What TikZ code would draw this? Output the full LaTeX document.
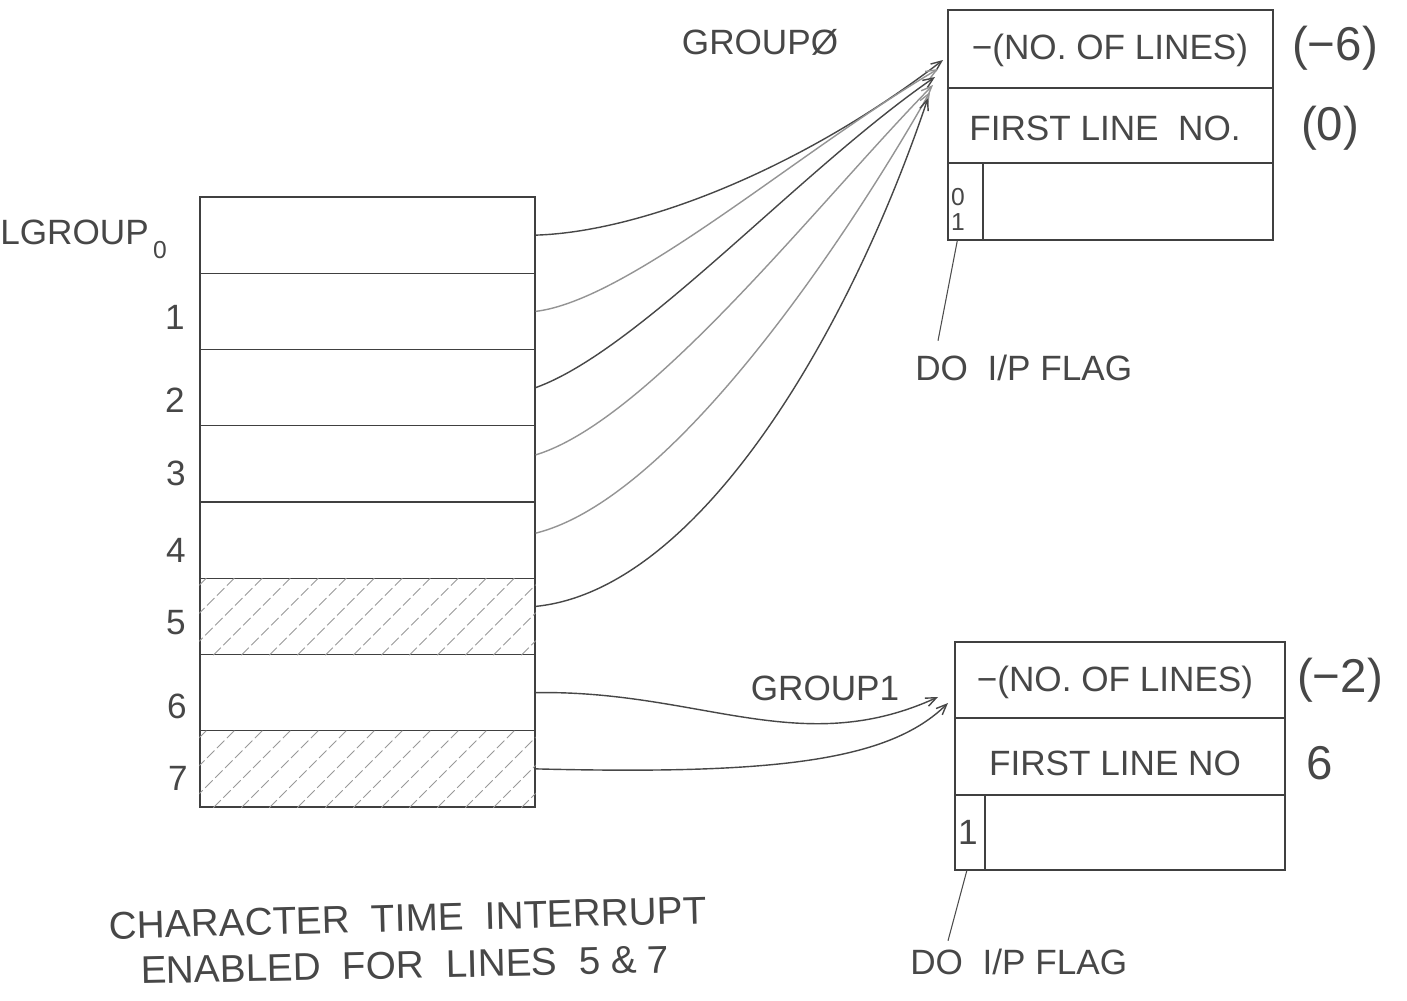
\documentclass[tikz,border=0pt]{standalone}
\usepackage{fontspec}
\setmainfont{Liberation Sans}
\usetikzlibrary{arrows.meta,fit,calc}
\begin{document}
\begin{tikzpicture}[x=0.02cm,y=-0.02cm,
  cell/.style={draw=black!75, line width=0.8pt, inner sep=0pt},
  rowbox/.style={cell, minimum width=6.7cm, minimum height=1.525cm},
  hand/.style={text=black!72, font=\fontsize{20}{22}\selectfont, inner sep=0pt},
  handbig/.style={hand, font=\fontsize{27}{30}\selectfont},
  handsmall/.style={hand, font=\fontsize{14}{16}\selectfont},
  conn/.style={draw=black!72, line width=0.8pt, -{Straight Barb[length=6pt,width=5pt]}},
  connlight/.style={conn, draw=black!42},
  hatch/.style={draw=black!40, line width=0.5pt, dash pattern=on 6pt off 2pt},
  leader/.style={draw=black!70, line width=0.6pt},
]
\fill[white] (0,0) rectangle (1407,1001);
\path[use as bounding box] (0,0) rectangle (1407,1001);

% line table LGROUP: eight rows
\foreach \i in {0,...,7}
  \node[rowbox] (r\i) at (367.5, {235.125+76.25*\i}) {};

% hatching on lines 5 and 7
\foreach \r in {5,7} {
  \begin{scope}
    \clip (r\r.south west) rectangle (r\r.north east);
    \foreach \k in {0,...,14}
      \draw[hatch] ($(r\r.south west)+(-70+28*\k,0)$) -- ++(90,-90);
  \end{scope}
}

% row labels
\node[hand, anchor=west] (lg) at (0,232) {LGROUP};
\node[handsmall] (lgsub) at (160,250) {0};
\node[hand] (n1) at (175,317) {1};
\node[hand] (n2) at (175,400) {2};
\node[hand] (n3) at (176,473) {3};
\node[hand] (n4) at (176,550) {4};
\node[hand] (n5) at (176,623) {5};
\node[hand] (n6) at (177,706) {6};
\node[hand] (n7) at (178,778) {7};

% GROUP0 descriptor
\node[cell, fit={(948,10) (1273,88)}] (t1) {};
\node[cell, fit={(948,88) (1273,163)}] (t2) {};
\node[cell, fit={(948,163) (983,240)}] (tf) {};
\node[cell, fit={(983,163) (1273,240)}] (t3) {};
\node[hand] (t1txt) at (1110,50) {−(NO. OF LINES)};
\node[hand] (t2txt) at (1105,128) {FIRST LINE\ \ NO.};
\node[handsmall] (tfa) at (958,197) {0};
\node[handsmall] (tfb) at (958,222) {1};
\node[handbig] (t1val) at (1335,48) {(−6)};
\node[handbig] (t2val) at (1330,128) {(0)};
\node[hand] (g0) at (760,42) {GROUPØ};

% GROUP1 descriptor
\node[cell, fit={(955,642) (1285,718)}] (b1) {};
\node[cell, fit={(955,718) (1285,795)}] (b2) {};
\node[cell, fit={(955,795) (985,870)}] (bf) {};
\node[cell, fit={(985,795) (1285,870)}] (b3) {};
\node[hand] (b1txt) at (1115,682) {−(NO. OF LINES)};
\node[hand] (b2txt) at (1115,763) {FIRST LINE NO};
\node[hand] (bfa) at (968,832) {1};
\node[handbig] (b1val) at (1340,680) {(−2)};
\node[handbig] (b2val) at (1320,763) {6};
\node[hand] (g1) at (825,688) {GROUP1};

% flag captions
\node[hand, anchor=west] (flagA) at (915,368) {DO\ \ I/P FLAG};
\node[hand, anchor=west] (flagB) at (910,962) {DO\ \ I/P FLAG};
\draw[leader] ([xshift=0.2cm]tf.south west) -- ($(flagA.north west)+(23,-14)$);
\draw[leader] ([xshift=0.25cm]bf.south west) -- ($(flagB.north west)+(38,-8)$);

% note
\node[hand, font=\fontsize{22}{24}\selectfont, rotate=1.5] (note1) at (408,918) {CHARACTER\ \ TIME\ \ INTERRUPT};
\node[hand, font=\fontsize{22}{24}\selectfont, rotate=1.2] (note2) at (405,965) {ENABLED\ \ FOR\ \ LINES\ \ 5 \& 7};

% arrow targets
\coordinate (h0) at (943,60);
\coordinate (h1) at (938,69);
\coordinate (h2) at (935,77);
\coordinate (h3) at (933,85);
\coordinate (h4) at (930,92);
\coordinate (h5) at (928,98);
\coordinate (k6) at (938,697);
\coordinate (k7) at (948,703);

% lines 0-5 point to GROUP0
\draw[conn] (r0.east) .. controls (640,232) and (800,170) .. (h0);
\draw[connlight] (r1.east) .. controls (630,300) and (800,150) .. (h1);
\draw[conn] (r2.east) .. controls (640,350) and (800,170) .. (h2);
\draw[connlight] ([yshift=0.18cm]r3.east) .. controls (650,420) and (820,200) .. (h3);
\draw[connlight] ([yshift=0.14cm]r4.east) .. controls (670,500) and (840,250) .. (h4);
\draw[conn] ([yshift=0.2cm]r5.east) .. controls (700,590) and (850,330) .. (h5);

% lines 6-7 point to GROUP1
\draw[conn] (r6.east) .. controls (700,690) and (800,760) .. (k6);
\draw[conn] (r7.east) .. controls (780,775) and (890,760) .. (k7);
\end{tikzpicture}
\end{document}
